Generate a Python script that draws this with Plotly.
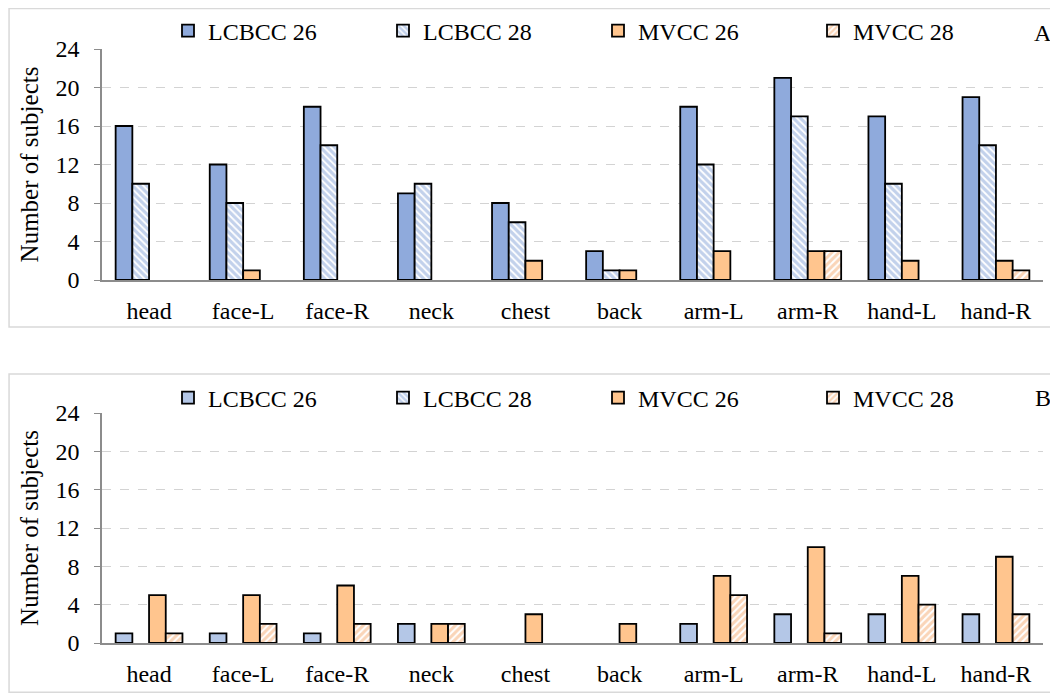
import plotly.graph_objects as go

categories = ["head", "face-L", "face-R", "neck", "chest", "back", "arm-L", "arm-R", "hand-L", "hand-R"]
series_names = ["LCBCC 26", "LCBCC 28", "MVCC 26", "MVCC 28"]

# Panel A
a_lcbcc26 = [16, 12, 18, 9, 8, 3, 18, 21, 17, 19]
a_lcbcc28 = [10, 8, 14, 10, 6, 1, 12, 17, 10, 14]
a_mvcc26 = [0, 1, 0, 0, 2, 1, 3, 3, 2, 2]
a_mvcc28 = [0, 0, 0, 0, 0, 0, 0, 3, 0, 1]

# Panel B
b_lcbcc26 = [1, 1, 1, 2, 0, 0, 2, 3, 3, 3]
b_lcbcc28 = [0, 0, 0, 0, 0, 0, 0, 0, 0, 0]
b_mvcc26 = [5, 5, 6, 2, 3, 2, 7, 10, 7, 9]
b_mvcc28 = [1, 2, 2, 2, 0, 0, 5, 1, 4, 3]

y_ticks = [0, 4, 8, 12, 16, 20, 24]

# the page body has an 8px margin, so the figure starts at (8, 8)
OFF = 8
W, H = 1058 - OFF, 693 - OFF
FONT = "Liberation Serif, Times New Roman, serif"
FS = 24
BLUE_A = "#8faadc"
BLUE_B = "#b4c7e7"
HATCH_BLUE = "#86a3d8"
ORANGE = "#ffc58e"
HATCH_ORANGE = "#f5ab72"


def px(x):
    return (x - OFF) / W


def py(y):
    return 1 - (y - OFF) / H


fig = go.Figure()


def add_panel(vals, blue, xaxis, yaxis, legend):
    styles = [
        dict(color=blue, pattern=dict(shape="")),
        dict(color="white", pattern=dict(shape="\\", fgcolor=HATCH_BLUE, bgcolor="white", size=5, solidity=0.65, fillmode="overlay")),
        dict(color=ORANGE, pattern=dict(shape="")),
        dict(color="white", pattern=dict(shape="/", fgcolor=HATCH_ORANGE, bgcolor="white", size=5, solidity=0.6, fillmode="overlay")),
    ]
    for name, v, st in zip(series_names, vals, styles):
        # zero-height bars are not drawn in the reference
        shown = [val if val != 0 else None for val in v]
        fig.add_trace(go.Bar(
            x=categories, y=shown, name=name,
            xaxis=xaxis, yaxis=yaxis, legend=legend,
            marker=dict(color=st["color"], pattern=st["pattern"],
                        line=dict(color="black", width=1.8)),
        ))


add_panel([a_lcbcc26, a_lcbcc28, a_mvcc26, a_mvcc28], BLUE_A, "x", "y", "legend")
add_panel([b_lcbcc26, b_lcbcc28, b_mvcc26, b_mvcc28], BLUE_B, "x2", "y2", "legend2")

x_left, x_right = px(102), px(1043)

xcommon = dict(
    showgrid=False, showline=True, linecolor="#8c8c8c", linewidth=1.5,
    ticks="", ticklabelstandoff=8, automargin=False,
    tickfont=dict(family=FONT, size=FS, color="black"),
    domain=[x_left, x_right], fixedrange=True,
)
ycommon = dict(
    range=[0, 24], tickvals=y_ticks, showgrid=True, gridcolor="#d3d3d3",
    griddash="dash", gridwidth=1.2, showline=True, linecolor="#8c8c8c", linewidth=1.5,
    ticks="outside", ticklen=6, tickcolor="#8c8c8c", ticklabelstandoff=10, automargin=False,
    tickfont=dict(family=FONT, size=FS, color="black"),
    title=dict(text="Number of subjects", font=dict(family=FONT, size=25, color="black"), standoff=10),
    zeroline=False, fixedrange=True,
)

leg_common = dict(
    orientation="h", xanchor="left", yanchor="middle",
    font=dict(family=FONT, size=FS, color="black"),
    entrywidth=170, entrywidthmode="pixels", itemwidth=30,
    bgcolor="rgba(0,0,0,0)", traceorder="normal",
)

fig.update_layout(
    width=W, height=H,
    margin=dict(l=0, r=0, t=0, b=0, autoexpand=False),
    paper_bgcolor="white", plot_bgcolor="white",
    barmode="group", bargap=0.29, bargroupgap=0,
    xaxis=dict(**xcommon, anchor="y"),
    yaxis=dict(**ycommon, domain=[py(280), py(49)], anchor="x"),
    xaxis2=dict(**xcommon, anchor="y2"),
    yaxis2=dict(**ycommon, domain=[py(643), py(413)], anchor="x2"),
    legend=dict(**leg_common, x=px(168), y=py(31)),
    legend2=dict(**leg_common, x=px(168), y=py(398)),
    shapes=[
        dict(type="rect", xref="paper", yref="paper", x0=0.001, x1=1.02, y0=py(327), y1=py(8.5),
             line=dict(color="#d9d9d9", width=1.5), fillcolor="rgba(0,0,0,0)", layer="below"),
        dict(type="rect", xref="paper", yref="paper", x0=0.001, x1=1.02, y0=0.001, y1=py(374),
             line=dict(color="#d9d9d9", width=1.5), fillcolor="rgba(0,0,0,0)", layer="below"),
    ],
    annotations=[
        dict(text="A", xref="paper", yref="paper", x=px(1043), y=py(33), showarrow=False,
             font=dict(family=FONT, size=FS, color="black"), xanchor="center", yanchor="middle"),
        dict(text="B", xref="paper", yref="paper", x=px(1043), y=py(398), showarrow=False,
             font=dict(family=FONT, size=FS, color="black"), xanchor="center", yanchor="middle"),
    ],
)

fig.write_html("out.html")
